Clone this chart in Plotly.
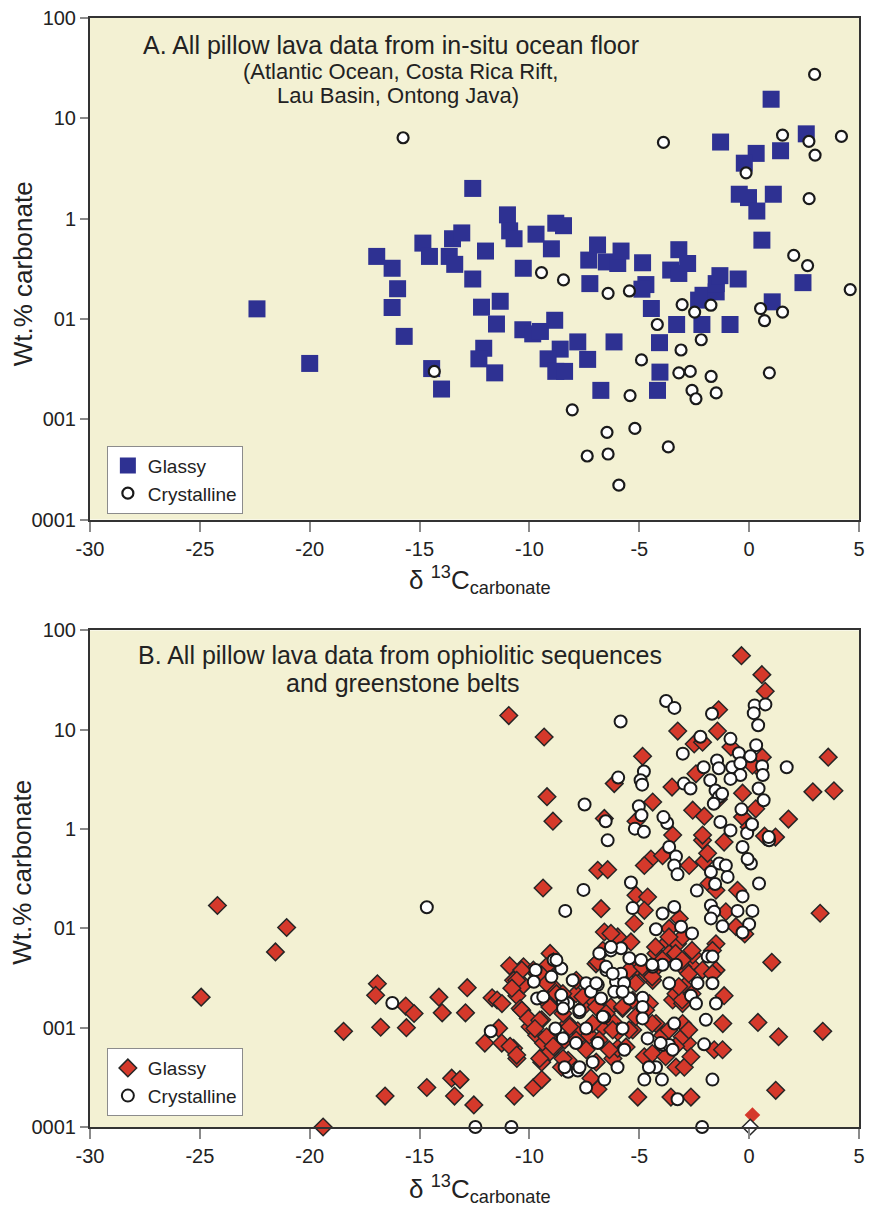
import plotly.graph_objects as go

# ---------------- Panel A data (in-situ ocean floor) ----------------
a_glassy_x = [-22.4, -20.0, -16.95, -16.25, -16.0, -16.25, -15.7, -14.85, -14.55, -14.45, -14.0,
              -13.5, -13.08, -13.65, -13.4, -12.58, -12.58, -12.0, -12.18, -11.33, -11.5, -12.08,
              -12.3, -11.58, -11.0, -10.9, -10.7, -10.28, -9.7, -10.3, -9.85, -9.5, -8.8, -8.45,
              -9.0, -8.85, -7.8, -8.6, -9.15, -8.8, -8.4, -7.35, -7.25, -7.3, -6.9, -6.75, -6.5,
              -5.98, -5.83, -6.15, -4.85, -4.7, -4.88, -4.45, -4.08, -4.06, -4.17, -3.2, -3.57,
              -3.2, -2.8, -3.3, -2.15, -2.3, -2.1, -1.5, -1.5, -1.33, -0.87, -0.5, -1.3, 0.32,
              -0.22, 1.43, 2.6, -0.45, -0.03, 0.35, 1.1, 0.58, 2.45, 1.05, 1.0]
a_glassy_y = [0.126, 0.036, 0.42, 0.32, 0.20, 0.13, 0.067, 0.57, 0.42, 0.032, 0.020,
              0.63, 0.72, 0.42, 0.35, 2.0, 0.25, 0.475, 0.131, 0.15, 0.089, 0.051,
              0.040, 0.029, 1.09, 0.755, 0.63, 0.32, 0.70, 0.078, 0.071, 0.075, 0.90, 0.85,
              0.50, 0.097, 0.059, 0.050, 0.040, 0.030, 0.030, 0.0395, 0.225, 0.386, 0.546, 0.0194, 0.37,
              0.357, 0.475, 0.059, 0.363, 0.22, 0.198, 0.127, 0.058, 0.0295, 0.0194, 0.49, 0.307,
              0.284, 0.357, 0.088, 0.088, 0.154, 0.172, 0.186, 0.225, 0.27, 0.088, 0.25, 5.8, 4.47,
              3.57, 4.75, 7.0, 1.75, 1.62, 1.19, 1.75, 0.61, 0.23, 0.148, 15.5]

a_cryst_x = [-15.75, -14.33, -9.45, -8.45, -8.05, -6.42, -5.45, -3.9, -4.18, -4.9, -5.42, -5.2,
             -6.47, -6.42, -7.37, -5.93, -3.68, -3.05, -3.1, -3.2, -2.68, -2.48, -2.18, -2.6,
             -2.42, -1.74, -1.73, -1.5, -0.14, 0.52, 0.7, 0.92, 1.52, 1.52, 2.03, 2.66, 2.72,
             3.0, 2.73, 2.98, 4.2, 4.6]
a_cryst_y = [6.4, 0.030, 0.29, 0.245, 0.0124, 0.18, 0.19, 5.75, 0.088, 0.039, 0.0172, 0.0081,
             0.0074, 0.0045, 0.0043, 0.0022, 0.0053, 0.139, 0.049, 0.029, 0.030, 0.117, 0.062, 0.0194,
             0.016, 0.137, 0.0267, 0.0183, 2.86, 0.127, 0.096, 0.029, 0.117, 6.8, 0.43, 0.34, 5.9,
             4.3, 1.58, 27.4, 6.6, 0.196]

# ---------------- Panel B data (ophiolites / greenstone belts) ----------------
b_glassy_x = [-24.94, -24.2, -21.56, -21.05, -19.39, -18.46, -16.92, -17.0, -16.77, -16.57, -15.63,
              -15.25, -15.6, -14.67, -14.12, -13.97, -12.83, -12.91, -13.54, -13.16, -13.41, -12.53,
              -10.94, -9.33, -9.2, -8.93, -9.38, -10.69, -12.03, -11.4,
              -0.35, 0.58, 0.73, -1.39, 3.6, 2.9, 3.86, 1.79, 3.23, 1.03, 0.4, 1.34, 3.35, 1.21,
              -11.7, -11.47, -11.25, -10.27, -10.72, -10.57, -9.82, -10.27, -9.06, -8.91, -10.42,
              -9.97, -9.44, -9.67, -9.36, -8.98, -9.44, -9.06, -9.82, -9.44, -11.26, -10.72, -10.57,
              -10.9, -9.2,
              -1.2, -5.07, -3.56, -2.65, -7.2, -6.88, -3.33, -2.95, -4.77, -6.2, -5.98, -8.54, -8.24,
              -4.24, -3.03, -3.94, -2.8, -2.65, -1.59, -1.21, -1.14, -3.48, -3.03, -8.85, -8.24, -8.4,
              -7.8, -7.27, -6.67, -6.2, -5.98, -5.3, -5.6, -7.88, -7.27, -7.57, -9.15, -6.29, -5.76,
              -5.3, -4.54, -4.39, -6.97, -5.15, -4.7, -3.33, -2.95, -2.57, -1.51, -9.24, -8.94, -8.48,
              -2.12, -1.14, 1.2, -4.47, -4.77, -3.94, -2.73, -2.05, -1.89, -6.89, -6.44, -1.82, -1.51,
              -0.53, -5.15, -4.62, -4.77, -6.74, -5.23, -1.06, -0.6, -3.18, -3.64, -3.71, -3.26, -3.03,
              -1.51, -1.67, -2.57, -6.59, -5.98, -5.38, -4.24, -3.64, -6.89, -5.23, -4.24, -3.03,
              -2.12, -1.67,
              -3.25, -1.44, -2.5, -2.12, -4.85, -0.83, -6.14, -2.42, -3.51, -4.39, -2.57, -2.04,
              -6.59, -5.15, 0.45, 0.15, -0.3, -2.12, -3.48, -0.3, 0.0, 0.6,
              -1.4, -0.2, 0.7, 0.3,
              -10.35, -10.58, -10.8, -9.45, -9.22, -10.35, -10.05, -9.53, -9.75, -10.88, -10.58,
              -9.22, -8.92, -9.53, -8.47, -8.17, -7.87, -8.47, -7.87, -7.57, -6.66, -6.29,
              -6.96, -6.51, -6.21, -7.12, -6.82, -6.36, -7.42, -6.96, -5.46, -5.16, -4.86, -4.41,
              -5.16, -4.71, -4.41, -5.46, -4.26, -3.65, -3.35, -3.95, -3.05, -2.6, -2.75,
              -3.65, -3.05, -3.35, -2.75, -4.41, -3.8, -3.05, -2.6, -3.2, -9.07, -8.77, -5.76, -5.91]
b_glassy_y = [0.0203, 0.170, 0.058, 0.102, 0.001, 0.0092, 0.0277, 0.0212, 0.0101, 0.00205, 0.0165,
              0.0139, 0.010, 0.0025, 0.0203, 0.0141, 0.0253, 0.0141, 0.0031, 0.003, 0.00205, 0.00167,
              13.9, 8.46, 2.12, 1.2, 0.255, 0.00205, 0.0070, 0.0099,
              55.7, 35.9, 24.4, 15.9, 5.3, 2.37, 2.43, 1.26, 0.142, 0.0455, 0.0113, 0.0081, 0.0092, 0.00234,
              0.020, 0.019, 0.0175, 0.041, 0.030, 0.021, 0.038, 0.027, 0.056, 0.046, 0.0156,
              0.0102, 0.012, 0.0084, 0.007, 0.0075, 0.0045, 0.0057, 0.0025, 0.003, 0.007, 0.0062, 0.0049,
              0.042, 0.035,
              0.011, 0.002, 0.002, 0.002, 0.0031, 0.0024, 0.004, 0.004, 0.0051, 0.0049, 0.0062, 0.004, 0.0047,
              0.011, 0.011, 0.0084, 0.0070, 0.0051, 0.006, 0.006, 0.021, 0.019, 0.0175, 0.0064, 0.011, 0.0075,
              0.0093, 0.0084, 0.0102, 0.0115, 0.0091, 0.0095, 0.0064, 0.022, 0.019, 0.016, 0.0175, 0.0162, 0.0156,
              0.019, 0.0175, 0.030, 0.044, 0.041, 0.035, 0.022, 0.026, 0.041, 0.038, 0.041, 0.026, 0.022,
              0.77, 0.74, 0.83, 0.50, 0.43, 0.54, 0.43, 0.47, 0.57, 0.385, 0.39, 0.283, 0.242,
              0.242, 0.216, 0.207, 0.152, 0.158, 0.112, 0.147, 0.104, 0.126, 0.1, 0.073, 0.070, 0.082,
              0.070, 0.060, 0.054, 0.092, 0.082, 0.073, 0.056, 0.056, 0.046, 0.038, 0.040, 0.041,
              0.038, 0.035,
              9.7, 9.7, 7.2, 7.5, 5.4, 6.7, 2.87, 3.6, 2.65, 1.87, 1.55, 1.35,
              1.28, 1.2, 4.1, 4.4, 2.3, 0.87, 0.87, 1.32, 1.05, 5.3,
              2.0, 0.088, 0.85, 1.6,
              0.038, 0.030, 0.025, 0.034, 0.028, 0.015, 0.0124, 0.0119, 0.0098, 0.0065, 0.0053,
              0.0081, 0.0065, 0.0049, 0.0139, 0.0102, 0.0075, 0.0049, 0.030, 0.0205, 0.060, 0.089,
              0.0162, 0.0139, 0.0095, 0.011, 0.0075, 0.006, 0.006, 0.0045, 0.038, 0.028, 0.041, 0.0325,
              0.0129, 0.015, 0.011, 0.0095, 0.065, 0.082, 0.056, 0.048, 0.048, 0.060, 0.035,
              0.0095, 0.0081, 0.0065, 0.0095, 0.0055, 0.0051, 0.019, 0.022, 0.026, 0.0162, 0.022, 0.0162, 0.024]

b_cryst_x = [-14.67, -16.24, -11.76, -12.46, -10.82, -2.14, -5.85, -3.78, -3.4, 1.71, -7.49, -7.54, -8.37,
             -9.72, -9.8, -9.65, -8.9, -8.82,
             -9.0, -8.55, -8.03, -7.42, -6.89, -7.2, -6.5, -6.06, -5.83, -6.14, -5.45, -6.74, -4.85,
             -4.85, -4.85, -8.24, -8.48, -7.73, -8.48, -7.42, -6.59, -5.76, -7.88, -6.89, -5.68, -7.12,
             -8.24, -7.8, -7.42, -6.59, -4.62, -3.94, -3.64, -3.48, -4.24, -4.77, -3.97, -3.26, -3.41,
             -1.97, -2.05, -1.67, -3.33, -3.94, -4.39, -3.64, -2.35, -1.67, -2.65, -2.42, -1.51,
             -6.44, -3.64, -3.33, -3.41, -3.26, -0.3, 0.08, -0.07, 0.91, -1.36, -1.06, -1.74, -0.98,
             -1.55, 0.45, -5.38, -2.38, -0.3, -5.3, -3.94, -3.41, -1.74, -1.59, -0.53, 0.15, -1.74,
             -1.21, 0.0, -0.3, -4.24, -3.1, -2.6, -6.82, -6.29, -5.83, -5.45, -4.92, -1.89, -1.67,
             -1.69, 0.25, 0.74, 0.21, 0.41, -2.22, -0.85, -3.02, 0.32, -0.47, 0.06, 0.59, 0.62, -1.46,
             -2.07, -1.38, -0.77, -0.4, -0.4, -4.79, -4.94, -4.87, -5.96, -2.97, -2.67, -1.77, -1.53,
             -1.38, -1.23, -0.85, 0.43, 0.66, -1.61, -5.02, -4.9, -5.2, -4.79, -6.53, -3.73, -1.31,
             -0.85, -0.09, 0.13, 0.89, -0.35, -3.9,
             -8.77, -9.37, -8.55, -8.47, -6.96, -6.51, -6.29, -6.21, -5.69, -5.76, -4.41, -7.72,
             -6.66, -4.03, -7.72, -8.4, -5.99, -4.56]
b_cryst_y = [0.163, 0.0177, 0.0092, 0.001, 0.001, 0.001, 12.1, 19.5, 16.6, 4.2, 1.77, 0.244, 0.15,
             0.038, 0.029, 0.0197, 0.048, 0.0098,
             0.0325, 0.0395, 0.030, 0.028, 0.027, 0.023, 0.038, 0.029, 0.035, 0.023, 0.0197, 0.0197, 0.020,
             0.0162, 0.0124, 0.0175, 0.018, 0.0143, 0.0078, 0.0098, 0.0127, 0.0098, 0.007, 0.007, 0.006, 0.0045,
             0.0036, 0.0037, 0.0025, 0.003, 0.0078, 0.0067, 0.0067, 0.006, 0.004, 0.003, 0.003, 0.0019, 0.011,
             0.012, 0.0068, 0.003, 0.043, 0.043, 0.041, 0.028, 0.028, 0.028, 0.021, 0.0175, 0.0175,
             0.77, 0.66, 0.53, 0.43, 0.35, 0.66, 0.45, 0.50, 0.77, 0.45, 0.43, 0.37, 0.33,
             0.28, 0.283, 0.29, 0.24, 0.21, 0.16, 0.141, 0.164, 0.17, 0.147, 0.15, 0.15, 0.126,
             0.105, 0.11, 0.091, 0.098, 0.104, 0.089, 0.056, 0.06, 0.063, 0.05, 0.048, 0.052, 0.052,
             14.5, 17.6, 18.0, 14.7, 11.1, 8.5, 8.1, 5.75, 7.0, 5.8, 5.4, 4.3, 3.5, 4.9,
             4.2, 4.1, 4.2, 4.6, 3.5, 3.8, 3.1, 2.8, 3.3, 2.87, 2.56, 3.1, 2.45,
             2.1, 2.27, 3.2, 2.56, 1.95, 1.8, 1.7, 1.38, 1.01, 0.94, 1.2, 1.15, 1.18,
             0.97, 0.91, 1.12, 0.83, 1.58, 1.32,
             0.048, 0.0205, 0.0213, 0.0156, 0.028, 0.041, 0.065, 0.035, 0.028, 0.023, 0.043, 0.015,
             0.0129, 0.007, 0.004, 0.004, 0.004, 0.004]

# special symbols near the origin of panel B
b_plain_red_x = [0.15]
b_plain_red_y = [0.00132]
b_open_diamond_x = [0.05]
b_open_diamond_y = [0.001]

# axis ticks
x_tickvals = [-30, -25, -20, -15, -10, -5, 0, 5]
x_ticktext = ["-30", "-25", "-20", "-15", "-10", "-5", "0", "5"]
y_tickvals = [100, 10, 1, 0.1, 0.01, 0.001]
y_ticktext = ["100", "10", "1", "01", "001", "0001"]

# ---------------- styling ----------------
FONT = "Liberation Sans, Arial, Helvetica, sans-serif"
BG = "#F3F1D3"
NAVY = "#2E3192"
RED = "#D5392B"
EDGE = "#262626"

fig = go.Figure()

# Panel A
fig.add_trace(go.Scatter(x=a_glassy_x, y=a_glassy_y, mode="markers", name="Glassy",
                         marker=dict(symbol="square", size=17, color=NAVY, line=dict(width=0)),
                         xaxis="x", yaxis="y", legend="legend", cliponaxis=False))
fig.add_trace(go.Scatter(x=a_cryst_x, y=a_cryst_y, mode="markers", name="Crystalline",
                         marker=dict(symbol="circle", size=11, color="white", line=dict(width=2.2, color="#1a1a1a")),
                         xaxis="x", yaxis="y", legend="legend", cliponaxis=False))

# Panel B
fig.add_trace(go.Scatter(x=b_glassy_x, y=b_glassy_y, mode="markers", name="Glassy",
                         marker=dict(symbol="diamond", size=13.5, color=RED, line=dict(width=1.5, color=EDGE)),
                         xaxis="x2", yaxis="y2", legend="legend2", cliponaxis=False))
fig.add_trace(go.Scatter(x=b_cryst_x, y=b_cryst_y, mode="markers", name="Crystalline",
                         marker=dict(symbol="circle", size=12, color="white", line=dict(width=2, color="#1a1a1a")),
                         xaxis="x2", yaxis="y2", legend="legend2", cliponaxis=False))
fig.add_trace(go.Scatter(x=b_plain_red_x, y=b_plain_red_y, mode="markers", showlegend=False,
                         marker=dict(symbol="diamond", size=12, color=RED, line=dict(width=0)),
                         xaxis="x2", yaxis="y2", cliponaxis=False))
fig.add_trace(go.Scatter(x=b_open_diamond_x, y=b_open_diamond_y, mode="markers", showlegend=False,
                         marker=dict(symbol="diamond", size=12, color="white", line=dict(width=1.5, color=EDGE)),
                         xaxis="x2", yaxis="y2", cliponaxis=False))

axis_common = dict(showgrid=False, zeroline=False, showline=True, linecolor="#333333", linewidth=2,
                   mirror=True, ticks="outside", tickcolor="#8a8a8a", tickwidth=2,
                   tickfont=dict(family=FONT, size=20, color="#222222"))

xa = dict(axis_common, range=[-30, 5], tickmode="array", tickvals=x_tickvals, ticktext=x_ticktext,
          ticklen=10, domain=[0, 1])
ya = dict(axis_common, type="log", range=[-3, 2], tickmode="array", tickvals=y_tickvals,
          ticktext=y_ticktext, ticklen=8)

# plot-area geometry (pixels)
TOP, BOT, LEFT, RIGHT = 17, 1127, 90, 865
H = BOT - TOP
W = RIGHT - LEFT
def py(p):
    return (BOT - p) / H
def px(p):
    return (p - LEFT) / W

fig.update_layout(
    width=872, height=1209, autosize=False,
    margin=dict(l=LEFT, r=872 - RIGHT, t=TOP, b=1209 - BOT),
    paper_bgcolor="white", plot_bgcolor=BG,
    xaxis=dict(xa, anchor="y"),
    yaxis=dict(ya, anchor="x", domain=[py(519), 1]),
    xaxis2=dict(xa, anchor="y2"),
    yaxis2=dict(ya, anchor="x2", domain=[0, py(630)]),
    legend=dict(x=px(107), y=py(445), xanchor="left", yanchor="top", bgcolor="white",
                bordercolor="#8c8c8c", borderwidth=1, font=dict(family=FONT, size=19, color="#222"),
                itemsizing="trace", tracegroupgap=0),
    legend2=dict(x=px(107), y=py(1048), xanchor="left", yanchor="top", bgcolor="white",
                 bordercolor="#8c8c8c", borderwidth=1, font=dict(family=FONT, size=19, color="#222"),
                 itemsizing="trace", tracegroupgap=0),
    showlegend=True,
)

def note(text, x, y, size, angle=0):
    fig.add_annotation(text=text, x=px(x), y=py(y), xref="paper", yref="paper",
                       xanchor="center", yanchor="middle", showarrow=False, textangle=angle,
                       font=dict(family=FONT, size=size, color="#222222"))

note("A. All pillow lava data from in-situ ocean floor", 393, 44, 25)
note("(Atlantic Ocean, Costa Rica Rift,", 403, 71, 22)
note("Lau Basin, Ontong Java)", 400, 95, 22)
note("B. All pillow lava data from ophiolitic sequences", 402, 655, 25)
note("and greenstone belts", 405, 683, 25)
note("Wt.% carbonate", 22, 273, 26, -90)
note("Wt.% carbonate", 22, 872, 26, -90)
note("δ <sup>13</sup>C<sub>carbonate</sub>", 483, 580, 26)
note("δ <sup>13</sup>C<sub>carbonate</sub>", 483, 1189, 26)

fig.write_html("out.html")
